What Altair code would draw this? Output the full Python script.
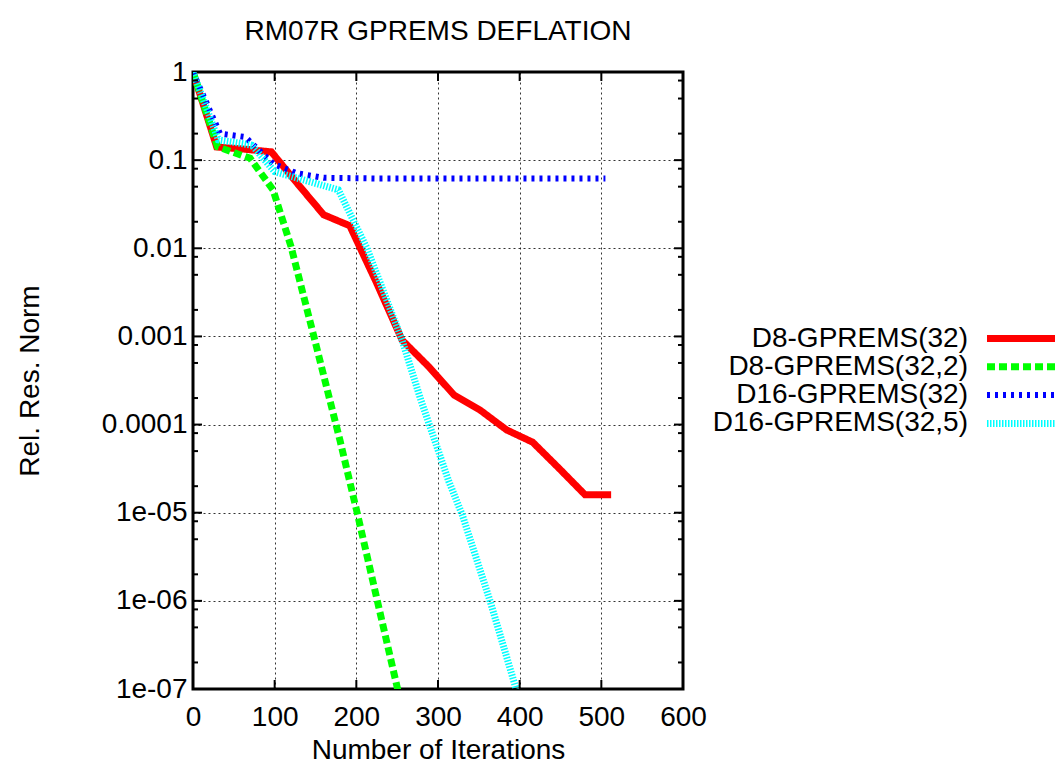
import altair as alt
import pandas as pd

TITLE = "RM07R GPREMS DEFLATION"
X_TITLE = "Number of Iterations"
Y_TITLE = "Rel. Res. Norm"

series_names = ["D8-GPREMS(32)", "D8-GPREMS(32,2)", "D16-GPREMS(32)", "D16-GPREMS(32,5)"]
series_colors = ["#ff0000", "#00ff00", "#0000ff", "#00ffff"]

red_iter = [0, 29, 64, 96, 128, 160, 192, 224, 256, 288, 320, 352, 384, 416, 448, 480, 512]
red_res = [1, 1.41e-1, 1.33e-1, 1.24e-1, 5.4e-2, 2.4e-2, 1.8e-2, 4.2e-3, 9.1e-4, 4.6e-4,
           2.15e-4, 1.45e-4, 8.7e-5, 6.3e-5, 3.2e-5, 1.6e-5, 1.6e-5]

green_iter = [0, 30, 70, 98, 120, 148, 180, 201, 225, 256]
green_res = [1, 1.42e-1, 1.05e-1, 4.6e-2, 1.05e-2, 1.0e-3, 6.6e-5, 1.0e-5, 1.07e-6, 6e-8]

blue_iter = [0, 33, 64, 98, 127, 160, 224, 288, 352, 416, 480, 505]
blue_res = [1, 0.20, 0.183, 0.091, 0.071, 0.063, 0.062, 0.062, 0.062, 0.062, 0.062, 0.062]

cyan_iter = [0, 31, 72, 100, 178, 213, 256, 279, 313, 330, 364, 395, 402]
cyan_res = [1, 0.17, 0.148, 0.074, 0.046, 0.010, 9.1e-4, 1.9e-4, 2.3e-5, 9.3e-6, 9.8e-7, 1.05e-7, 6.3e-8]

x_ticks = [0, 100, 200, 300, 400, 500, 600]
y_ticks = [1, 0.1, 0.01, 0.001, 0.0001, 1e-05, 1e-06, 1e-07]
y_tick_labels = ["1", "0.1", "0.01", "0.001", "0.0001", "1e-05", "1e-06", "1e-07"]
y_minor = [m * 10.0 ** e for e in range(-7, 0) for m in (2, 5, 8)]

FONT = "Liberation Sans"
FS = 28
W, H = 490, 617

styles = [
    dict(strokeWidth=7, strokeDash=[1, 0]),
    dict(strokeWidth=7, strokeDash=[8, 4]),
    dict(strokeWidth=6, strokeDash=[3, 5]),
    dict(strokeWidth=7, strokeDash=[1.5, 1.5]),
]

all_series = [(red_iter, red_res), (green_iter, green_res), (blue_iter, blue_res), (cyan_iter, cyan_res)]
rows = []
for name, (xs, ys) in zip(series_names, all_series):
    for xv, yv in zip(xs, ys):
        rows.append({"series": name, "iter": xv, "res": yv})
df = pd.DataFrame(rows)

label_arr = "[" + ",".join("'%s'" % s for s in y_tick_labels) + "]"
label_expr = label_arr + "[round(-log(datum.value)/LN10)]"

x_scale = alt.Scale(domain=[0, 600], nice=False, zero=False)
y_scale = alt.Scale(type="log", domain=[1e-7, 1], nice=False)
color_scale = alt.Scale(domain=series_names, range=series_colors)

x_axis = alt.Axis(values=x_ticks, title=X_TITLE, grid=True, gridDash=[2, 3], gridColor="#000000",
                  gridOpacity=0.8, gridWidth=1, ticks=False, domain=False, labelFontSize=FS,
                  labelFont=FONT, labelPadding=14, labelColor="#000", titleFont=FONT, titleFontSize=FS,
                  titleFontWeight="normal", titleColor="#000", titleX=W / 2, titleY=69,
                  titleBaseline="alphabetic", titleAlign="center", labelFlush=False)
y_axis = alt.Axis(values=y_ticks, labelExpr=label_expr, title=Y_TITLE, grid=True, gridDash=[2, 3],
                  gridColor="#000000", gridOpacity=0.8, gridWidth=1, ticks=False, domain=False,
                  labelFontSize=FS, labelFont=FONT, labelPadding=6, labelColor="#000",
                  titleFont=FONT, titleFontSize=FS, titleFontWeight="normal", titleColor="#000",
                  titleX=-163, titleY=H / 2, titleAngle=-90, titleBaseline="middle", titleAlign="center",
                  labelFlush=False)

layers = []
for i, name in enumerate(series_names):
    enc_x = alt.X("iter:Q", scale=x_scale, axis=x_axis if i == 0 else alt.Axis(title=X_TITLE))
    enc_y = alt.Y("res:Q", scale=y_scale, axis=y_axis if i == 0 else alt.Axis(title=Y_TITLE))
    layers.append(
        alt.Chart(df).transform_filter(alt.datum.series == name)
        .mark_line(clip=True, strokeCap="butt", strokeJoin="miter", **styles[i])
        .encode(x=enc_x, y=enc_y, color=alt.Color("series:N", scale=color_scale, legend=None),
                order=alt.Order("iter:Q"))
    )

# tick marks (inside, mirrored)
xt = pd.DataFrame({"iter": x_ticks[1:-1]})
for y0, y1 in [(H, H - 9), (0, 9)]:
    layers.append(alt.Chart(xt).mark_rule(color="black", strokeWidth=2).encode(
        x=alt.X("iter:Q", scale=x_scale, axis=alt.Axis(title=X_TITLE)), y=alt.value(y0), y2=alt.value(y1)))
yt = pd.DataFrame({"res": y_ticks[1:-1]})
ym = pd.DataFrame({"res": y_minor})
for d, ln in [(yt, 9), (ym, 5)]:
    for x0, x1 in [(0, ln), (W, W - ln)]:
        layers.append(alt.Chart(d).mark_rule(color="black", strokeWidth=2).encode(
            y=alt.Y("res:Q", scale=y_scale, axis=alt.Axis(title=Y_TITLE)), x=alt.value(x0), x2=alt.value(x1)))

# title as text
td = pd.DataFrame({"t": [TITLE]})
layers.append(alt.Chart(td).mark_text(align="center", baseline="middle", font=FONT, fontSize=FS,
                                      color="#000").encode(text="t:N", x=alt.value(W / 2), y=alt.value(32 - 72)))

# legend (gnuplot-style: label right-aligned, sample line to the right)
row_y = [338.5 - 72 + 28.3 * k for k in range(4)]
for i, name in enumerate(series_names):
    ld = pd.DataFrame({"series": [name]})
    layers.append(alt.Chart(ld).mark_text(align="right", baseline="middle", font=FONT, fontSize=FS,
                                          color="#000").encode(
        text="series:N", x=alt.value(968 - 193), y=alt.value(row_y[i])))
    layers.append(alt.Chart(ld).mark_rule(strokeCap="butt", **styles[i]).encode(
        color=alt.Color("series:N", scale=color_scale, legend=None),
        x=alt.value(987 - 193), x2=alt.value(900), y=alt.value(row_y[i])))

chart = alt.layer(*layers).properties(
    width=W, height=H,
    autosize=alt.AutoSizeParams(type="none"),
    padding={"left": 185, "top": 64, "right": 372, "bottom": 75},
).configure_view(stroke="black", strokeWidth=3)

chart.save("out.html", embed_options={"renderer": "svg", "actions": False})
